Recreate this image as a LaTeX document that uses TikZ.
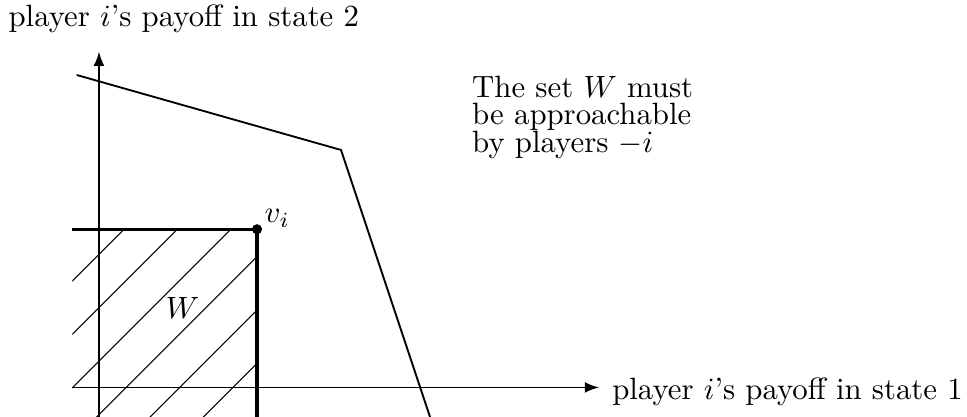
\documentclass[tikz,border=0pt]{standalone}
\usepackage{amsmath}
\usepackage{amssymb}
\usepackage{tikz}

\begin{document}
\begin{tikzpicture}[every node/.style={inner sep=0pt}, axisline/.style={draw=black, semithick, -latex}, bound/.style={draw=black, line width=1pt}, hatch/.style={draw=black, line width=0.35pt}, frontier/.style={draw=black, semithick}, vdot/.style={circle, fill=black, minimum size=3.3pt}]
			\useasboundingbox (-1.13,-0.337) rectangle (9.909,4.423);
			\coordinate (xs) at (-0.305,0);
			\coordinate (xe) at (5.708,0);
			\coordinate (ys) at (0,-0.337);
			\coordinate (ye) at (0,3.833);
			\coordinate (f1) at (-0.255,3.567);
			\coordinate (f2) at (2.763,2.711);
			\coordinate (f3) at (3.779,-0.337);
			\coordinate (wl) at (-0.305,1.806);
			\coordinate (wb) at (1.804,-0.337);
			\coordinate (vc) at (1.804,1.806);
			
			\begin{scope}
			\clip (-0.305,-0.337) rectangle (1.804,1.806);
			\foreach \k in {-1.53,-0.92,...,1.6}
				\path[hatch] (-2.5,-2.5+\k) -- (2.5,2.5+\k);
			\end{scope}
			
			\node (wname) at (0.953,0.902){$W$};
			\node[anchor=base west] (vname) at (1.884,1.878){$v_i$};
			\node[anchor=base west] (ylab) at (-1.039,4.119){player $i$'s payoff in state 2};
			\node[anchor=base west] (xlab) at (5.853,-0.143){player $i$'s payoff in state 1};
			\node[anchor=north west, align=left, font={\fontsize{10pt}{9pt}\selectfont\lineskiplimit=-10pt\relax}] (note) at (4.254,3.564){The set $W$ must\\be approachable\\by players $-i$};
			
			\path[axisline] (xs) -- (xe);
			\path[axisline] (ys) -- (ye);
			\path[frontier] (f1) -- (f2) -- (f3);
			\path[bound] (wl) -- (vc) -- (wb);
			\node[vdot] (v) at (vc){};
			\end{tikzpicture}
\end{document}
